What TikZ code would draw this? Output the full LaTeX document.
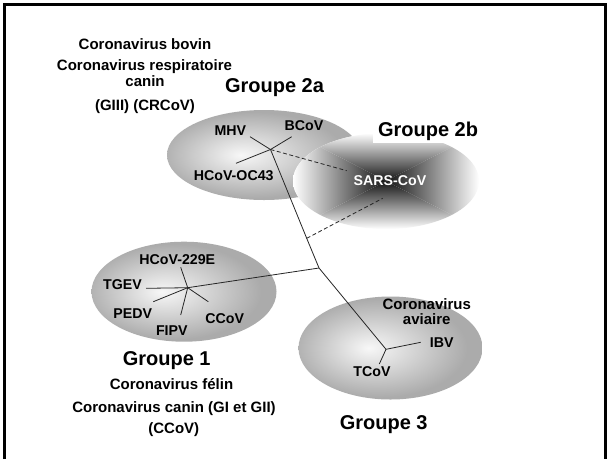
\documentclass[tikz,border=0pt]{standalone}
\usepackage{fontspec}
\setmainfont{Liberation Sans}
\pgfdeclareradialshading{blob}{\pgfpoint{-6bp}{0bp}}{color(0bp)=(black!3); color(24bp)=(black!33); color(50bp)=(black!33)}
\begin{document}
\begin{tikzpicture}[x=1pt,y=-1pt,
  lbl/.style={font=\fontsize{14.2}{16}\selectfont\bfseries, anchor=base, inner sep=0pt},
  desc/.style={font=\fontsize{15}{17}\selectfont\bfseries, anchor=base, inner sep=0pt},
  grp/.style={font=\fontsize{20}{24}\selectfont\bfseries, anchor=base, inner sep=0pt},
  branch/.style={line width=0.8pt, draw=black!85},
  link/.style={line width=0.8pt, draw=black!85, dash pattern=on 4pt off 2.5pt},
  blobshade/.style={shading=blob}]
\useasboundingbox (0,0) rectangle (609,459);
\fill[white] (0,0) rectangle (609,459);
% frame
\draw[line width=2.5pt] (4.3,459) -- (4.3,4.3) -- (605.3,4.3) -- (605.3,459);
% group ellipses
\shade[blobshade] (264,155) ellipse [x radius=97, y radius=45];
\shade[blobshade] (184,291.7) ellipse [x radius=92.5, y radius=50];
\shade[blobshade] (390.5,348) ellipse [x radius=92, y radius=51.5];
% group 2b ellipse with rectangular gradient
\begin{scope}
  \clip (386,181) ellipse [x radius=93, y radius=48];
  \fill[white] (293,133) rectangle (479,229);
  \shade[top color=white, middle color=black!45, bottom color=black!92] (293,133) -- (479,133) -- (386,181) -- cycle;
  \shade[top color=black!92, middle color=black!45, bottom color=white] (293,229) -- (479,229) -- (386,181) -- cycle;
  \shade[left color=white, middle color=black!45, right color=black!92] (293,133) -- (293,229) -- (386,181) -- cycle;
  \shade[left color=black!92, middle color=black!45, right color=white] (479,133) -- (479,229) -- (386,181) -- cycle;
\end{scope}
\node[grp, fill=white, inner xsep=5pt, inner ysep=2.5pt] (g2b) at (428,136) {Groupe 2b};
% tree coordinates
\coordinate (J2a) at (270.5,149.5);
\coordinate (eMHV) at (250,136.7);
\coordinate (eBCoV) at (291.7,136.7);
\coordinate (eOC43) at (236,163.3);
\coordinate (eSARS1) at (346.7,170.7);
\coordinate (eSARS2) at (382.7,198.3);
\coordinate (D) at (306.7,238.3);
\coordinate (Jm) at (319,268);
\coordinate (J1) at (187.7,287.7);
\coordinate (e229) at (180.7,267.3);
\coordinate (eTGEV) at (146,288.3);
\coordinate (ePEDV) at (153.3,301.7);
\coordinate (eFIPV) at (180.7,315);
\coordinate (eCCoV) at (208.3,301.7);
\coordinate (J3) at (386,349.3);
\coordinate (eIBV) at (420.7,342.3);
\coordinate (eTCoV) at (379.3,364);
% branches
\draw[branch] (J2a) -- (eMHV);
\draw[branch] (J2a) -- (eBCoV);
\draw[branch] (J2a) -- (eOC43);
\draw[branch] (J2a) -- (D) -- (Jm) -- (J3);
\draw[branch] (Jm) -- (J1);
\draw[branch] (J1) -- (e229);
\draw[branch] (J1) -- (eTGEV);
\draw[branch] (J1) -- (ePEDV);
\draw[branch] (J1) -- (eFIPV);
\draw[branch] (J1) -- (eCCoV);
\draw[branch] (J3) -- (eIBV);
\draw[branch] (J3) -- (eTCoV);
\draw[link] (J2a) -- (eSARS1);
\draw[link] (D) -- (eSARS2);
% leaf labels
\node[lbl] (MHV) at (230.3,135) {MHV};
\node[lbl] (BCoV) at (304,130.7) {BCoV};
\node[lbl] (OC43) at (233.7,180.7) {HCoV-OC43};
\node[lbl, text=white] (SARS) at (390,185.7) {SARS-CoV};
\node[lbl] (H229) at (177.3,264) {HCoV-229E};
\node[lbl] (TGEV) at (122.5,289) {TGEV};
\node[lbl] (PEDV) at (132.8,318) {PEDV};
\node[lbl] (FIPV) at (171.8,335.7) {FIPV};
\node[lbl] (CCoV) at (224.8,323.3) {CCoV};
\node[lbl] (IBV) at (441.7,347.3) {IBV};
\node[lbl] (TCoV) at (372,376.7) {TCoV};
\node[desc] (avi1) at (426.7,309) {Coronavirus};
\node[desc] (avi2) at (426.7,324) {aviaire};
% group titles and descriptions
\node[desc] (d1) at (145,49) {Coronavirus bovin};
\node[desc] (d2) at (144.5,70.7) {Coronavirus respiratoire};
\node[desc] (d3) at (145,86.5) {canin};
\node[desc] (d4) at (145,110.7) {(GIII) (CRCoV)};
\node[grp] (g2a) at (274.5,92.7) {Groupe 2a};
\node[grp] (g1) at (166.7,365.5) {Groupe 1};
\node[desc] (d5) at (171.5,389) {Coronavirus félin};
\node[desc] (d6) at (174,412.3) {Coronavirus canin (GI et GII)};
\node[desc] (d7) at (173.8,433.3) {(CCoV)};
\node[grp] (g3) at (383.7,429.3) {Groupe 3};
\end{tikzpicture}
\end{document}
